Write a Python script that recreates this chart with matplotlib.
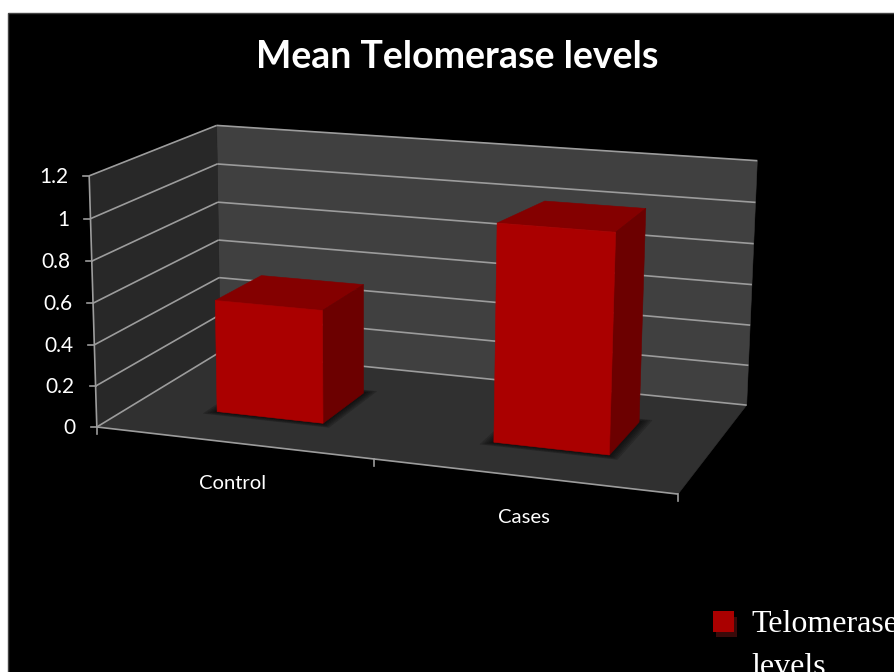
import numpy as np
import matplotlib
matplotlib.use("Agg")
import matplotlib.pyplot as plt
from matplotlib.patches import Polygon, Rectangle

# ---- data
categories = ["Control", "Cases"]
values = [0.55, 1.03]
y_ticks = [0, 0.2, 0.4, 0.6, 0.8, 1.0, 1.2]
y_labels = ["0", "0.2", "0.4", "0.6", "0.8", "1", "1.2"]
title = "Mean Telomerase levels"
legend_lines = ["Telomerase", "levels"]

# ---- perspective scale: (category, value, depth) -> pixel
anchors_3d = [(0, 0, 0), (0, 1.2, 0), (0, 0, 1), (0, 1.2, 1), (2, 0, 1), (2, 1.2, 1), (2, 0, 0)]
anchors_px = [(98, 426), (88, 176), (219, 353), (218, 125), (747, 404), (757, 161), (678, 495)]
A = []
b = []
for (u, v, d), (x, y) in zip(anchors_3d, anchors_px):
    A.append([u, v, d, 1, 0, 0, 0, 0, -x * u, -x * v, -x * d])
    b.append(x)
    A.append([0, 0, 0, 0, u, v, d, 1, -y * u, -y * v, -y * d])
    b.append(y)
P = np.linalg.lstsq(np.array(A, float), np.array(b, float), rcond=None)[0]
P = np.append(P, 1).reshape(3, 4)


def pr(u, v, d):
    q = P @ np.array([u, v, d, 1.0])
    return q[0] / q[2], q[1] / q[2]


fig = plt.figure(figsize=(8.95, 6.72), dpi=100, facecolor="white")
ax = fig.add_axes([0, 0, 1, 1])
ax.set_xlim(0, 895)
ax.set_ylim(672, 0)
ax.axis("off")

ax.add_patch(Rectangle((8.5, 12.5), 900, 700, fc="black", ec="#444444", lw=1, zorder=0))


def poly(pts, fc, z=1, alpha=None):
    ax.add_patch(Polygon([pr(*p) for p in pts], closed=True, fc=fc, ec=fc, lw=0.4, zorder=z, alpha=alpha))


def seg(a, b, c="#9c9c9c", lw=1.2, z=2):
    p, q = pr(*a), pr(*b)
    ax.plot([p[0], q[0]], [p[1], q[1]], color=c, lw=lw, zorder=z, solid_capstyle="butt")


vmax = y_ticks[-1]
umax = len(categories)
poly([(0, 0, 1), (umax, 0, 1), (umax, vmax, 1), (0, vmax, 1)], "#404040")
poly([(0, 0, 0), (0, 0, 1), (0, vmax, 1), (0, vmax, 0)], "#282828")
poly([(0, 0, 0), (umax, 0, 0), (umax, 0, 1), (0, 0, 1)], "#303030")

for t in y_ticks:
    seg((0, t, 0), (0, t, 1))
    seg((0, t, 1), (umax, t, 1))
    p = pr(0, t, 0)
    ax.plot([p[0] - 6, p[0]], [p[1], p[1]], color="#9c9c9c", lw=1.2, zorder=2)
seg((0, 0, 0), (0, vmax, 0))
seg((0, 0, 0), (umax, 0, 0))
for i in range(umax + 1):
    p = pr(i, 0, 0)
    ax.plot([p[0], p[0]], [p[1], p[1] + 7], color="#9c9c9c", lw=1.2, zorder=2)

for t, lab in zip(y_ticks, y_labels):
    p = pr(0, t, 0)
    ax.text(p[0] - 21, p[1] + 1, lab, color="white", ha="right", va="center",
            family="Lato", fontsize=15, zorder=5)

gap_l, gap_r, gap_d, gap_b = 0.307, 0.3, 0.3, 0.32
back_inset = [0.005, 0.045]
label_dx = [0, 1]
for i, (name, val) in enumerate(zip(categories, values)):
    u0, u1 = i + gap_l, i + 1 - gap_r
    d0, d1 = gap_d, 1 - gap_b
    # soft floor shadow
    for k in range(6):
        e = 0.006 * (6 - k)
        poly([(u0 - e, 0, d0 - e), (u1 + e, 0, d0 - e), (u1 + e, 0, d1 + e), (u0 - e, 0, d1 + e)],
             "#000000", z=3, alpha=0.12)
    z = 4 + i
    poly([(u0, val, d0), (u1, val, d0), (u1, val, d1), (u0 + back_inset[i], val, d1)], "#840000", z)
    poly([(u1, 0, d0), (u1, 0, d1), (u1, val, d1), (u1, val, d0)], "#6c0000", z)
    poly([(u0, 0, d0), (u1, 0, d0), (u1, val, d0), (u0, val, d0)], "#aa0000", z)
    p = pr(i + 0.5, 0, 0)
    ax.text(p[0] + label_dx[i], p[1] + 41, name, color="white", ha="center", va="center",
            family="Lato", fontsize=14.6, zorder=5)

ax.text(457, 57.5, title, color="white", ha="center", va="center", family="Lato",
        fontweight="bold", fontsize=27, zorder=5)

ax.add_patch(Rectangle((716, 617), 21, 20, fc="#3a0a0a", ec="none", zorder=4))
ax.add_patch(Rectangle((713, 611), 21, 21, fc="#aa0000", ec="none", zorder=5))
ax.text(751, 632, legend_lines[0], color="white", ha="left", va="baseline",
        family="Liberation Serif", fontsize=23, zorder=5)
ax.text(751, 675, legend_lines[1], color="white", ha="left", va="baseline",
        family="Liberation Serif", fontsize=23, zorder=5)

fig.savefig("out.png", dpi=100, facecolor="white")
